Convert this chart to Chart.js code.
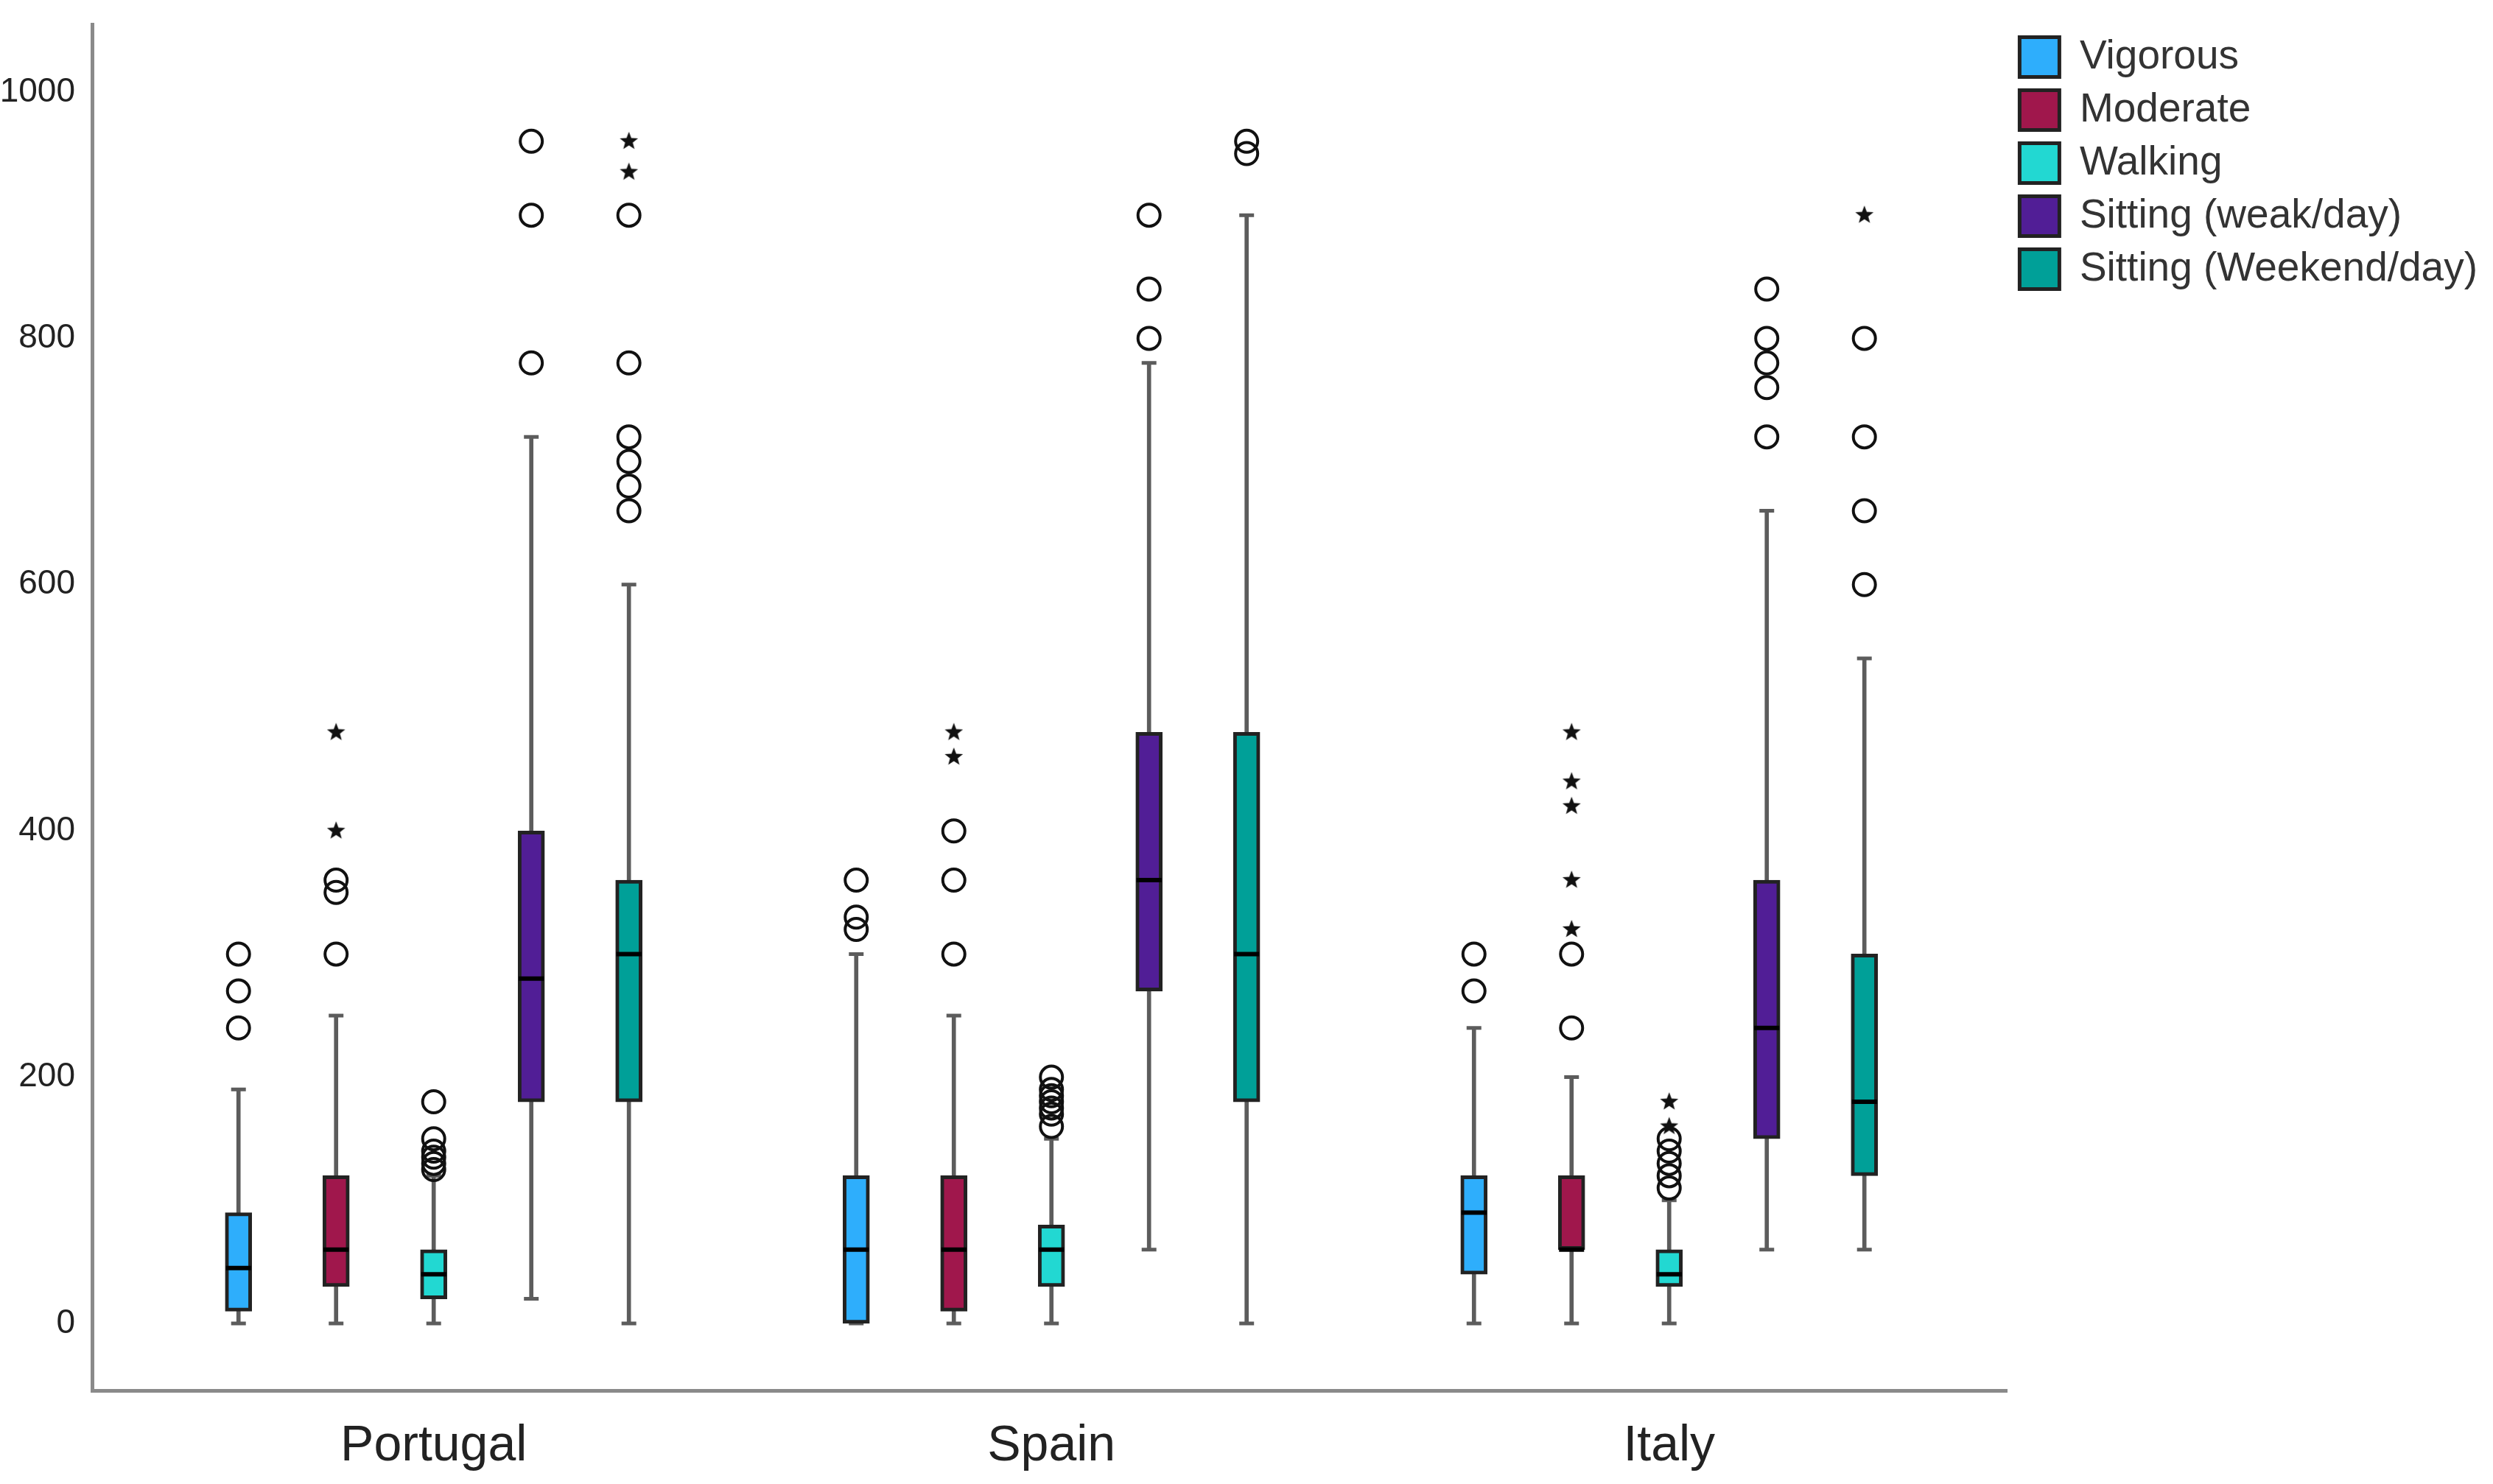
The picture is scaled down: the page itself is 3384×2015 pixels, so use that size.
<!DOCTYPE html>
<html>
<head>
<meta charset="utf-8">
<script src="https://cdn.jsdelivr.net/npm/chart.js@4.4.1/dist/chart.umd.min.js"></script>
<style>
  html, body { margin: 0; padding: 0; background: #fff; }
  #wrap { width: 3384px; height: 2015px; }
</style>
</head>
<body>
<div id="wrap"><canvas id="chart"></canvas></div>
<script>
var countries = ["Portugal", "Spain", "Italy"];
var activities = ["Vigorous", "Moderate", "Walking", "Sitting (weak/day)", "Sitting (Weekend/day)"];
var yTicks = [0, 200, 400, 600, 800, 1000];

// one row per activity, columns: Portugal, Spain, Italy
var whiskerLow = [
  [0, 0, 0],
  [0, 0, 0],
  [0, 0, 0],
  [20, 60, 60],
  [0, 0, 60]
];
var q1 = [
  [10, 0, 40],
  [30, 10, 60],
  [20, 30, 30],
  [180, 270, 150],
  [180, 180, 120]
];
var median = [
  [45, 60, 90],
  [60, 60, 60],
  [40, 60, 40],
  [280, 360, 240],
  [300, 300, 180]
];
var q3 = [
  [90, 120, 120],
  [120, 120, 120],
  [60, 80, 60],
  [400, 480, 360],
  [360, 480, 300]
];
var whiskerHigh = [
  [190, 300, 240],
  [250, 250, 200],
  [120, 150, 100],
  [720, 780, 660],
  [600, 900, 540]
];
// circles
var outliers = [
  [[240, 270, 300], [320, 330, 360], [270, 300]],
  [[300, 350, 360], [300, 360, 400], [240, 300]],
  [[125, 130, 135, 140, 150, 180], [160, 170, 175, 180, 185, 190, 200], [110, 120, 130, 140, 150]],
  [[780, 900, 960], [800, 840, 900], [720, 760, 780, 800, 840]],
  [[660, 680, 700, 720, 780, 900], [950, 960], [600, 660, 720, 800]]
];
// stars
var extremes = [
  [[], [], []],
  [[400, 480], [460, 480], [320, 360, 420, 440, 480]],
  [[], [], [160, 180]],
  [[], [], []],
  [[935, 960], [], [900]]
];

var boxColors = ["#2eaefc", "#a0174c", "#22d8d2", "#511e96", "#00a098"];
var sans = "'Liberation Sans', Arial, sans-serif";

function xPos(c, a) {
  return c + (a - 2) * 0.158;
}

// small filled star used for the extreme values
function starImage(size) {
  var cv = document.createElement("canvas");
  cv.width = size;
  cv.height = size;
  var g = cv.getContext("2d");
  var c = size / 2, ro = size / 2 - 1, ri = ro * 0.42;
  g.beginPath();
  for (var k = 0; k < 10; k++) {
    var r = k % 2 ? ri : ro;
    var ang = -Math.PI / 2 + k * Math.PI / 5;
    g.lineTo(c + r * Math.cos(ang), c + r * Math.sin(ang));
  }
  g.closePath();
  g.fillStyle = "#111";
  g.fill();
  return cv;
}

var datasets = [];
activities.forEach(function (name, a) {
  datasets.push({
    type: "bar",
    label: name,
    data: countries.map(function (c, i) {
      return { x: xPos(i, a), y: [q1[a][i], q3[a][i]] };
    }),
    backgroundColor: boxColors[a],
    borderColor: "#222",
    borderWidth: 5,
    borderSkipped: false,
    barThickness: 36,
    grouped: false,
    order: 5
  });
});

var whiskers = [], caps = [], medians = [], circles = [], stars = [];
activities.forEach(function (name, a) {
  countries.forEach(function (c, i) {
    var x = xPos(i, a);
    whiskers.push({ x: x, y: [whiskerLow[a][i], whiskerHigh[a][i]] });
    caps.push({ x: x, y: whiskerLow[a][i] });
    caps.push({ x: x, y: whiskerHigh[a][i] });
    medians.push({ x: x, y: median[a][i] });
    outliers[a][i].forEach(function (v) { circles.push({ x: x, y: v }); });
    extremes[a][i].forEach(function (v) { stars.push({ x: x, y: v }); });
  });
});

datasets.push({
  type: "bar", label: "whiskers", data: whiskers,
  backgroundColor: "#5c5c5c", borderWidth: 0, barThickness: 5, grouped: false, order: 10
});
datasets.push({
  type: "scatter", label: "caps", data: caps,
  pointStyle: "line", pointRadius: 10, pointBorderWidth: 5, pointBorderColor: "#5c5c5c", order: 9
});
datasets.push({
  type: "scatter", label: "medians", data: medians,
  pointStyle: "line", pointRadius: 17, pointBorderWidth: 6, pointBorderColor: "#000", order: 2
});
datasets.push({
  type: "scatter", label: "outliers", data: circles,
  pointStyle: "circle", pointRadius: 15, pointBorderWidth: 4,
  pointBorderColor: "#111", pointBackgroundColor: "rgba(0,0,0,0)", order: 1
});
datasets.push({
  type: "scatter", label: "extremes", data: stars,
  pointStyle: starImage(28), pointRadius: 14, order: 1
});

function noPadding(s) {
  s.paddingTop = 0;
  s.paddingBottom = 0;
  s.paddingLeft = 0;
  s.paddingRight = 0;
}

new Chart(document.getElementById("chart"), {
  type: "bar",
  data: { datasets: datasets },
  options: {
    responsive: true,
    maintainAspectRatio: false,
    animation: false,
    devicePixelRatio: 1,
    layout: { padding: { top: 33, left: 0, right: 11, bottom: 0 } },
    plugins: {
      tooltip: { enabled: false },
      legend: {
        position: "right",
        align: "start",
        labels: {
          boxWidth: 54,
          boxHeight: 54,
          padding: 17,
          color: "#333",
          font: { family: sans, size: 55, lineHeight: 1 },
          filter: function (item) { return item.datasetIndex < 5; }
        }
      }
    },
    scales: {
      x: {
        type: "linear",
        min: -0.553,
        max: 2.547,
        offset: false,
        grid: { display: false, drawTicks: false },
        border: { display: true, color: "#8a8a8a", width: 5 },
        afterBuildTicks: function (s) {
          s.ticks = countries.map(function (c, i) { return { value: i }; });
        },
        afterFit: function (s) { s.height = 127; noPadding(s); },
        ticks: {
          padding: 42,
          color: "#222",
          font: { family: sans, size: 68, lineHeight: 1 },
          callback: function (v) { return countries[v]; }
        }
      },
      y: {
        type: "linear",
        min: -54.4,
        max: 1055,
        grid: { display: false, drawTicks: false },
        border: { display: true, color: "#8a8a8a", width: 5 },
        afterBuildTicks: function (s) {
          s.ticks = yTicks.map(function (v) { return { value: v }; });
        },
        afterFit: function (s) { s.width = 125; noPadding(s); },
        ticks: {
          padding: 23,
          color: "#222",
          font: { family: sans, size: 46 },
          callback: function (v) { return String(v); }
        }
      }
    }
  }
});
</script>
</body>
</html>
